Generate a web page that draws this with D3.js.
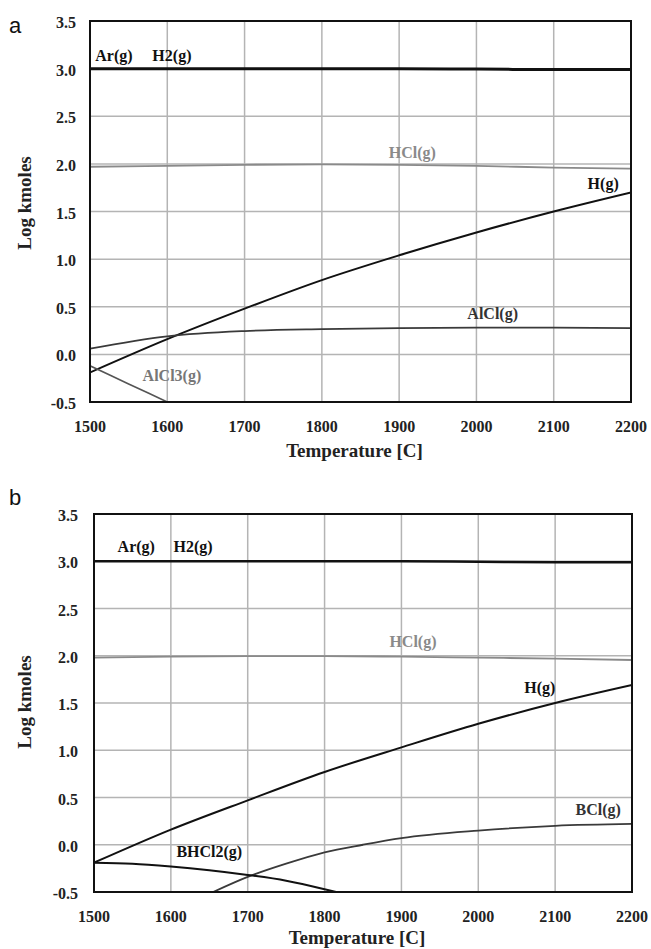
<!DOCTYPE html>
<html>
<head>
<meta charset="utf-8">
<script src="https://cdn.jsdelivr.net/npm/d3@7"></script>
<style>
  body { margin: 0; background: #fff; }
  svg text { font-family: "Liberation Serif", "Times New Roman", serif; font-weight: bold; }
</style>
</head>
<body>
<svg id="chart"></svg>
<script>
// shared axes
const xTicks = [1500, 1600, 1700, 1800, 1900, 2000, 2100, 2200];
const yTicks = [-0.5, 0.0, 0.5, 1.0, 1.5, 2.0, 2.5, 3.0, 3.5];
const temps = [1500, 1600, 1700, 1800, 1900, 2000, 2100, 2200];

// panel a
const arH2A = [3.0, 3.0, 3.0, 3.0, 3.0, 2.995, 2.99, 2.99];
const hclA = [1.97, 1.98, 1.99, 1.995, 1.99, 1.98, 1.96, 1.95];
const hA = [-0.19, 0.16, 0.48, 0.78, 1.04, 1.28, 1.50, 1.70];
const alclA = [0.06, 0.19, 0.245, 0.265, 0.275, 0.28, 0.28, 0.275];
const alcl3T = [1500, 1550, 1600];
const alcl3A = [-0.12, -0.31, -0.5];

// panel b
const arH2B = [3.0, 3.0, 3.0, 3.0, 3.0, 2.995, 2.99, 2.99];
const hclB = [1.98, 1.99, 1.995, 1.995, 1.99, 1.98, 1.97, 1.955];
const hB = [-0.19, 0.16, 0.47, 0.77, 1.03, 1.28, 1.50, 1.69];
const bclT = [1655, 1700, 1750, 1800, 1850, 1900, 2000, 2100, 2200];
const bclB = [-0.5, -0.34, -0.2, -0.08, 0.0, 0.07, 0.15, 0.2, 0.22];
const bhcl2T = [1500, 1550, 1600, 1650, 1700, 1750, 1800, 1815];
const bhcl2B = [-0.19, -0.2, -0.23, -0.27, -0.32, -0.38, -0.47, -0.5];

const W = 651, H = 949;
const svg = d3.select("#chart").attr("width", W).attr("height", H);

function drawPanel(p) {
  const x = d3.scaleLinear().domain([1500, 2200]).range([p.left, p.right]);
  const y = d3.scaleLinear().domain([-0.5, 3.5]).range([p.bottom, p.top]);
  const g = svg.append("g");

  g.append("clipPath").attr("id", "clip" + p.id)
    .append("rect")
    .attr("x", p.left).attr("y", p.top)
    .attr("width", p.right - p.left).attr("height", p.bottom - p.top);

  // grid
  g.selectAll(".vg").data(xTicks.slice(1, -1)).enter().append("line")
    .attr("x1", d => x(d)).attr("x2", d => x(d))
    .attr("y1", p.top).attr("y2", p.bottom)
    .style("stroke", "#b4b4b4").style("stroke-width", 1.5);
  g.selectAll(".hg").data(yTicks.slice(1, -1)).enter().append("line")
    .attr("x1", p.left).attr("x2", p.right)
    .attr("y1", d => y(d)).attr("y2", d => y(d))
    .style("stroke", "#b4b4b4").style("stroke-width", 1.5);

  // series
  const line = d3.line().x(d => x(d[0])).y(d => y(d[1])).curve(d3.curveMonotoneX);
  const lines = g.append("g").attr("clip-path", `url(#clip${p.id})`);
  p.series.forEach(s => {
    lines.append("path")
      .datum(d3.zip(s.t, s.v))
      .attr("d", line)
      .style("fill", "none")
      .style("stroke", s.color)
      .style("stroke-width", s.width);
  });

  // frame
  g.append("rect")
    .attr("x", p.left).attr("y", p.top)
    .attr("width", p.right - p.left).attr("height", p.bottom - p.top)
    .style("fill", "none").style("stroke", "#111").style("stroke-width", 2);

  // tick labels
  g.selectAll(".yt").data(yTicks).enter().append("text")
    .attr("x", p.yTickX).attr("y", d => y(d) + 7)
    .attr("text-anchor", "end")
    .style("font-size", "16px").style("fill", "#222")
    .text(d => d.toFixed(1));
  g.selectAll(".xt").data(xTicks).enter().append("text")
    .attr("x", d => x(d)).attr("y", p.bottom + 30)
    .attr("text-anchor", "middle")
    .style("font-size", "16px").style("fill", "#222")
    .text(d => d);

  // axis titles
  g.append("text")
    .attr("transform", `translate(31,${p.yTitleY}) rotate(-90)`)
    .attr("text-anchor", "middle")
    .style("font-size", "19px").style("fill", "#222")
    .text("Log kmoles");
  g.append("text")
    .attr("x", (p.left + p.right) / 2 - 6).attr("y", p.bottom + p.xTitleDy)
    .attr("text-anchor", "middle")
    .style("font-size", "19px").style("fill", "#222")
    .text("Temperature [C]");

  // series labels
  p.labels.forEach(l => {
    g.append("text")
      .attr("x", x(l.t)).attr("y", y(l.v))
      .attr("text-anchor", "middle")
      .style("font-size", "16px").style("fill", l.color)
      .text(l.text);
  });

  // panel letter
  svg.append("text")
    .attr("x", 9).attr("y", p.letterY)
    .style("font-family", "'Liberation Sans', Arial, sans-serif")
    .style("font-weight", "normal")
    .style("font-size", "22px").style("fill", "#111")
    .text(p.id);
}

drawPanel({
  id: "a", left: 90, right: 631, top: 21, bottom: 402, letterY: 33,
  yTickX: 76, yTitleY: 203, xTitleDy: 55,
  series: [
    { t: temps, v: arH2A, color: "#111", width: 3 },
    { t: temps, v: hclA, color: "#8a8a8a", width: 1.8 },
    { t: temps, v: hA, color: "#111", width: 2 },
    { t: temps, v: alclA, color: "#3a3a3a", width: 1.8 },
    { t: alcl3T, v: alcl3A, color: "#555", width: 1.6 }
  ],
  labels: [
    { text: "Ar(g)", t: 1531, v: 3.08, color: "#111" },
    { text: "H2(g)", t: 1606, v: 3.08, color: "#111" },
    { text: "HCl(g)", t: 1917, v: 2.06, color: "#8a8a8a" },
    { text: "H(g)", t: 2164, v: 1.735, color: "#111" },
    { text: "AlCl(g)", t: 2021, v: 0.37, color: "#333" },
    { text: "AlCl3(g)", t: 1606, v: -0.28, color: "#777" }
  ]
});

drawPanel({
  id: "b", left: 94, right: 632, top: 514, bottom: 892, letterY: 505,
  yTickX: 78, yTitleY: 702, xTitleDy: 52,
  series: [
    { t: temps, v: arH2B, color: "#111", width: 2.5 },
    { t: temps, v: hclB, color: "#8a8a8a", width: 1.8 },
    { t: temps, v: hB, color: "#111", width: 2 },
    { t: bclT, v: bclB, color: "#3a3a3a", width: 1.8 },
    { t: bhcl2T, v: bhcl2B, color: "#111", width: 2 }
  ],
  labels: [
    { text: "Ar(g)", t: 1555, v: 3.1, color: "#111" },
    { text: "H2(g)", t: 1629, v: 3.1, color: "#111" },
    { text: "HCl(g)", t: 1915, v: 2.09, color: "#8a8a8a" },
    { text: "H(g)", t: 2080, v: 1.606, color: "#111" },
    { text: "BCl(g)", t: 2156, v: 0.315, color: "#333" },
    { text: "BHCl2(g)", t: 1650, v: -0.13, color: "#111" }
  ]
});
</script>
</body>
</html>
